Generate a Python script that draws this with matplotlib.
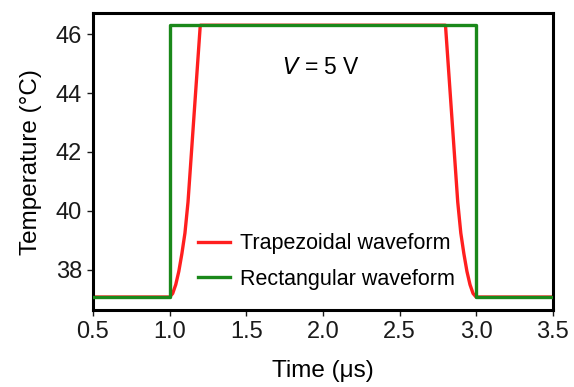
import matplotlib
matplotlib.use("Agg")
import matplotlib.pyplot as plt

plt.rcParams['font.family'] = ['Liberation Sans', 'DejaVu Sans']

rect_t = [0.5, 1.0, 1.0, 3.0, 3.0, 3.5]
rect_T = [37.08, 37.08, 46.3, 46.3, 37.08, 37.08]

trap_t = [0.5, 1.0, 1.02, 1.04, 1.06, 1.08, 1.10, 1.12, 1.2,
          2.8, 2.88, 2.90, 2.92, 2.94, 2.96, 2.98, 3.0, 3.5]
trap_T = [37.08, 37.08, 37.2, 37.5, 37.95, 38.55, 39.25, 40.3, 46.3,
          46.3, 40.3, 39.25, 38.55, 37.95, 37.5, 37.2, 37.08, 37.08]

xticks = [0.5, 1.0, 1.5, 2.0, 2.5, 3.0, 3.5]
yticks = [38, 40, 42, 44, 46]

fig = plt.figure(figsize=(5.74, 3.87), dpi=100)
ax = fig.add_axes([0.162, 0.199, 0.801, 0.767])

ax.plot(trap_t, trap_T, color='#ff1f1f', lw=2.4, label='Trapezoidal waveform', zorder=2)
ax.plot(rect_t, rect_T, color='#1a881a', lw=2.4, label='Rectangular waveform', zorder=3)

ax.set_xlim(0.5, 3.5)
ax.set_ylim(36.64, 46.71)
ax.set_xticks(xticks)
ax.set_xticklabels([f"{v:.1f}" for v in xticks])
ax.set_yticks(yticks)
for s in ax.spines.values():
    s.set_linewidth(2.2)
    s.set_color('black')
ax.tick_params(direction='out', length=4, width=1, labelsize=17, colors='#1a1a1a', pad=4)
ax.set_xlabel('Time (μs)', fontsize=17.5, labelpad=12)
ax.set_ylabel('Temperature (°C)', fontsize=17.5, labelpad=10)

ax.text(0.5 + (321 - 93) / 153.3, 44.88, r'$\mathit{V}$ = 5 V', fontsize=16.5, ha='center', va='center')

leg = ax.legend(loc='center left', bbox_to_anchor=(0.228, 0.163), frameon=False,
                fontsize=15.5, handlelength=1.5, handletextpad=0.45, labelspacing=0.68,
                borderpad=0, borderaxespad=0)

fig.savefig('out.png', dpi=100)
